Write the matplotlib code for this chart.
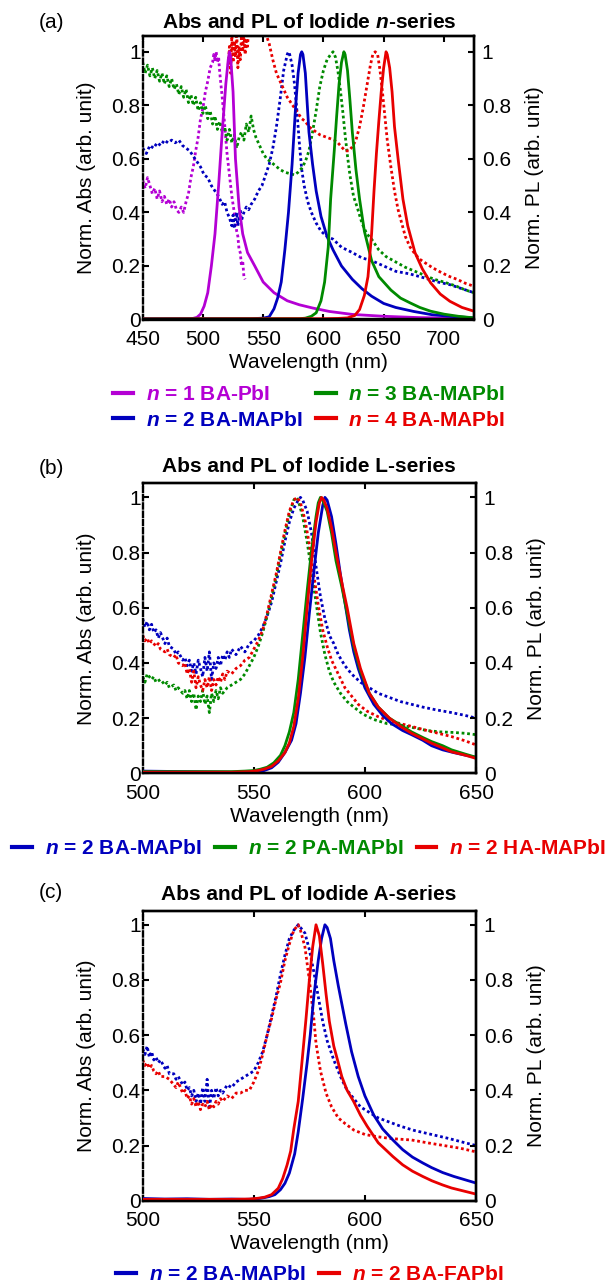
import matplotlib
matplotlib.use('Agg')
import matplotlib.pyplot as plt
from matplotlib.lines import Line2D

plt.rcParams['font.family'] = 'Liberation Sans'
plt.rcParams['font.size'] = 15
plt.rcParams['mathtext.fontset'] = 'custom'
plt.rcParams['mathtext.rm'] = 'Liberation Sans'
plt.rcParams['mathtext.it'] = 'Liberation Sans:italic'
plt.rcParams['mathtext.bf'] = 'Liberation Sans:bold'
plt.rcParams['mathtext.bfit'] = 'Liberation Sans:bold:italic'

PURPLE = '#B400D4'
BLUE = '#0000BE'
GREEN = '#008A00'
RED = '#E80000'

# ---------------- (a) iodide n-series ----------------
a_n1_abs_wl = [450, 452, 454, 456, 458, 460, 462, 464, 466, 468, 470, 472, 474, 476, 478, 480, 482, 484, 486, 488,
               490, 492, 494, 496, 498, 500, 502, 504, 506, 508, 509, 510, 511, 512, 513, 514, 516, 518, 520, 522,
               524, 526, 528, 529, 530, 531, 532, 533, 534, 535]
a_n1_abs = [.52, .49, .53, .50, .47, .49, .45, .48, .44, .46, .43, .45, .42, .44, .41, .40, .42, .40, .44, .47,
            .53, .57, .63, .68, .75, .79, .85, .89, .94, .96, .99, .97, 1.0, .96, .98, .92, .83, .73, .62, .54,
            .46, .40, .33, .31, .26, .25, .20, .22, .16, .15]
a_n1_pl_wl = [450, 490, 495, 498, 501, 504, 507, 510, 513, 516, 519, 521, 522, 523, 525, 527, 530, 533, 537, 543,
              550, 559, 570, 580, 591, 605, 624, 650, 680, 725]
a_n1_pl = [0.0, .002, .008, .02, .05, .1, .2, .32, .5, .7, .88, .97, 1.0, .98, .85, .6, .42, .32, .25, .2,
           .14, .1, .07, .055, .043, .03, .019, .012, .007, .004]

a_n2_abs_wl = [450, 453, 456, 459, 462, 465, 468, 471, 474, 477, 480, 483, 486, 489, 492, 495, 498, 501, 504, 507,
               510, 513, 516, 518, 520, 522, 524, 525, 526, 527, 528, 529, 530, 531, 532, 534, 536, 538, 540, 543,
               546, 549, 552, 555, 558, 561, 564, 567, 570, 571, 572, 574, 576, 578, 580, 582, 584, 587, 590, 594,
               598, 603, 608, 615, 624, 632, 640, 650, 660, 672, 684, 695, 705, 715, 725]
a_n2_abs = [.64, .62, .65, .64, .66, .65, .67, .66, .67, .66, .67, .65, .64, .63, .61, .59, .57, .54, .53, .50,
            .48, .46, .43, .44, .40, .38, .35, .39, .34, .37, .40, .35, .38, .41, .37, .40, .42, .41, .43, .45,
            .48, .50, .54, .58, .64, .72, .82, .93, .99, 1.0, .99, .95, .88, .78, .66, .56, .50, .44, .40, .36,
            .33, .31, .30, .27, .25, .23, .22, .20, .18, .17, .155, .14, .13, .115, .10]
a_n2_pl_wl = [450, 540, 550, 555, 559, 562, 565, 568, 571, 574, 577, 579, 581, 582, 583, 585, 588, 591, 594, 598,
              603, 608, 615, 624, 632, 640, 650, 660, 675, 690, 705, 725]
a_n2_pl = [.003, .003, .005, .01, .04, .08, .14, .26, .40, .58, .80, .92, .99, 1.0, .99, .92, .70, .58, .48, .385,
           .31, .26, .20, .15, .115, .087, .06, .045, .03, .018, .012, .006]

a_n3_abs_wl = [450, 452, 454, 456, 458, 460, 462, 464, 466, 468, 470, 472, 474, 476, 478, 480, 482, 484, 486, 488,
               490, 492, 494, 496, 498, 500, 502, 504, 506, 508, 510, 512, 514, 516, 518, 520, 522, 524, 526, 528,
               530, 532, 534, 536, 538, 540, 542, 544, 546, 548, 550, 553, 556, 560, 564, 568, 572, 576, 579, 582,
               585, 588, 591, 594, 597, 600, 603, 606, 608, 610, 612, 614, 616, 618, 620, 622, 625, 628, 632, 636,
               640, 646, 652, 660, 668, 676, 684, 692, 700, 710, 718, 725]
a_n3_abs = [.96, .92, .95, .91, .94, .90, .93, .89, .92, .88, .91, .87, .90, .86, .88, .84, .87, .83, .86, .81,
            .84, .80, .83, .78, .81, .77, .80, .75, .78, .73, .76, .71, .74, .70, .72, .67, .71, .66, .69, .64,
            .68, .70, .67, .73, .70, .76, .71, .68, .66, .64, .62, .60, .59, .575, .56, .55, .545, .54, .55, .565,
            .59, .63, .70, .78, .87, .93, .97, .99, 1.0, .98, .93, .86, .78, .69, .61, .54, .46, .42, .36, .32,
            .30, .26, .235, .215, .195, .18, .165, .15, .14, .125, .11, .10]
a_n3_pl_wl = [450, 580, 585, 590, 594, 598, 601, 604, 606, 609, 611, 613, 615, 617, 618, 620, 622, 624, 627, 630,
              634, 640, 646, 656, 664, 672, 680, 689, 700, 712, 725]
a_n3_pl = [.002, .003, .005, .012, .025, .07, .14, .27, .45, .63, .76, .88, .96, 1.0, .99, .93, .82, .70, .56, .45,
           .33, .22, .16, .11, .08, .062, .045, .031, .02, .012, .006]

a_n4_abs_wl = [521, 522, 523, 524, 525, 526, 527, 528, 529, 530, 531, 532, 533, 534, 535, 536, 537, 538, 540, 543,
               546, 549, 552, 555, 558, 561, 564, 567, 570, 573, 576, 579, 582, 585, 588, 591, 594, 597, 600, 603,
               606, 609, 612, 615, 618, 621, 624, 627, 630, 633, 636, 639, 641, 643, 645, 647, 649, 651, 653, 656,
               659, 662, 665, 668, 672, 676, 680, 685, 690, 698, 705, 711, 718, 725]
a_n4_abs = [.95, 1.02, .92, 1.06, .96, 1.04, .98, 1.08, .94, 1.02, .97, 1.06, 1.0, 1.08, .99, 1.05, 1.02, 1.09, 1.06, 1.1,
            1.08, 1.1, 1.07, 1.03, .97, .92, .89, .86, .83, .81, .79, .77, .75, .74, .72, .71, .70, .69, .685, .68,
            .675, .67, .66, .645, .63, .63, .645, .67, .72, .79, .87, .95, .99, 1.0, .99, .93, .85, .76, .67, .57,
            .48, .41, .36, .31, .27, .245, .225, .21, .195, .175, .16, .15, .135, .124]
a_n4_pl_wl = [450, 600, 612, 620, 626, 630, 634, 637, 640, 642, 644, 646, 648, 650, 652, 653, 655, 657, 659, 662,
              666, 670, 676, 682, 689, 697, 705, 715, 725]
a_n4_pl = [.002, .003, .004, .006, .015, .037, .09, .16, .32, .48, .62, .74, .85, .94, 1.0, .99, .94, .85, .72, .60,
           .45, .35, .25, .19, .137, .095, .068, .045, .031]

# ---------------- (b) iodide L-series ----------------
b_ba_abs_wl = [500, 501, 502, 503, 504, 505, 506, 507, 508, 510, 511, 512, 514, 515, 516, 518, 519, 520, 521, 522,
               523, 524, 525, 526, 527, 528, 529, 530, 531, 532, 533, 534, 535, 536, 537, 538, 539, 540, 542, 544,
               546, 548, 550, 552, 554, 556, 558, 560, 562, 564, 566, 568, 570, 571, 572, 574, 576, 578, 580, 582,
               584, 586, 588, 591, 594, 598, 602, 606, 611, 616, 621, 626, 632, 639, 645, 650]
b_ba_abs = [.56, .53, .55, .52, .54, .51, .52, .49, .51, .47, .49, .46, .45, .43, .44, .41, .42, .39, .41, .37,
            .40, .36, .41, .38, .35, .42, .37, .44, .34, .40, .38, .42, .39, .43, .41, .44, .42, .45, .43, .46,
            .44, .47, .48, .50, .53, .57, .62, .69, .76, .84, .91, .96, .99, 1.0, .99, .95, .87, .75, .64, .56,
            .50, .47, .43, .39, .36, .33, .31, .29, .275, .26, .25, .24, .23, .22, .21, .20]
b_pa_abs_wl = [500, 501, 502, 504, 505, 506, 508, 510, 511, 512, 514, 515, 516, 518, 519, 520, 521, 522, 523, 524,
               525, 526, 527, 528, 529, 530, 531, 532, 533, 534, 535, 536, 538, 540, 542, 544, 546, 548, 550, 552,
               554, 556, 558, 560, 562, 564, 566, 568, 569, 570, 572, 574, 576, 578, 580, 582, 584, 586, 589, 592,
               595, 599, 604, 610, 616, 622, 628, 634, 640, 645, 650]
b_pa_abs = [.35, .33, .36, .34, .35, .33, .34, .32, .33, .31, .32, .30, .31, .29, .30, .27, .30, .26, .29, .23,
            .28, .26, .30, .25, .28, .22, .29, .26, .30, .27, .31, .29, .31, .32, .33, .34, .36, .39, .42, .46,
            .51, .57, .64, .71, .79, .87, .94, .99, 1.0, .99, .93, .84, .73, .62, .51, .43, .37, .33, .29, .26,
            .24, .215, .195, .18, .175, .165, .155, .15, .148, .145, .14]
b_ha_abs_wl = [500, 501, 502, 503, 504, 506, 507, 508, 510, 511, 512, 514, 515, 516, 518, 519, 520, 521, 522, 523,
               524, 525, 526, 527, 528, 529, 530, 531, 532, 533, 534, 535, 536, 537, 538, 540, 542, 544, 546, 548,
               550, 552, 554, 556, 558, 560, 562, 564, 566, 568, 569.5, 571, 573, 575, 577, 579, 581, 583, 585, 588,
               591, 594, 597, 601, 606, 611, 616, 621, 627, 633, 639, 645, 650]
b_ha_abs = [.50, .48, .49, .47, .48, .46, .47, .45, .44, .45, .43, .42, .43, .40, .39, .40, .36, .38, .33, .37,
            .31, .35, .32, .30, .34, .31, .35, .30, .34, .32, .35, .33, .36, .34, .37, .36, .38, .39, .41, .42,
            .45, .48, .52, .58, .65, .72, .80, .88, .95, .99, 1.0, .98, .92, .83, .72, .61, .52, .46, .41, .36,
            .31, .28, .25, .225, .205, .19, .18, .17, .157, .145, .133, .118, .103]

b_ba_pl_wl = [500, 510, 520, 530, 540, 546, 550, 554, 558, 561, 564, 567, 569, 571, 573, 575, 577, 579, 581, 582,
              583, 585, 587, 589, 591, 593, 595, 597, 600, 604, 608, 612, 617, 621, 626, 630, 635, 640, 645, 650]
b_ba_pl = [.008, .007, .006, .005, .004, .003, .005, .008, .02, .04, .075, .12, .18, .29, .42, .58, .73, .87, .97, 1.0,
           .99, .93, .83, .72, .62, .52, .44, .38, .31, .25, .21, .18, .155, .14, .12, .10, .085, .075, .066, .058]
b_pa_pl_wl = [500, 520, 540, 546, 550, 553, 556, 559, 562, 564, 566, 568, 570, 572, 574, 576, 578, 579, 580, 581,
              583, 585, 587, 589.6, 592, 595, 598, 602, 606, 611, 616, 621, 626, 630, 635, 639, 645, 650]
b_pa_pl = [.006, .006, .006, .008, .01, .015, .022, .038, .065, .1, .15, .22, .34, .5, .66, .81, .93, .98, 1.0, .99,
           .95, .87, .77, .676, .58, .46, .37, .29, .24, .2, .175, .15, .13, .115, .1, .085, .07, .058]
b_ha_pl_wl = [500, 520, 540, 548, 552, 555, 558, 561, 564, 566, 568, 570, 572, 574, 576, 578, 579.5, 580.5, 581.5, 583,
              585, 587, 590, 592, 595, 598, 602, 606, 611, 616, 621, 626, 630, 635, 639, 645, 650]
b_ha_pl = [.004, .004, .004, .006, .01, .016, .025, .045, .075, .11, .17, .27, .42, .6, .77, .91, .98, 1.0, .99, .96,
           .89, .8, .676, .6, .47, .38, .29, .24, .2, .17, .145, .125, .109, .092, .078, .066, .054]

# ---------------- (c) iodide A-series ----------------
c_ma_abs_wl = [500, 501, 502, 503, 504, 505, 506, 507, 508, 510, 511, 512, 514, 515, 516, 518, 519, 520, 521, 522,
               523, 524, 525, 526, 527, 528, 529, 530, 531, 532, 533, 534, 535, 536, 538, 540, 542, 544, 546, 548,
               550, 552, 554, 556, 558, 560, 562, 564, 566, 568, 570, 571, 573, 575, 577, 579, 581, 583, 586, 589,
               592, 595, 598, 602, 606, 611, 616, 622, 630, 638, 645, 650]
c_ma_abs = [.55, .53, .56, .52, .54, .51, .52, .50, .51, .48, .49, .46, .46, .44, .45, .42, .43, .40, .41, .38,
            .40, .36, .39, .35, .41, .36, .44, .33, .40, .37, .41, .38, .40, .39, .42, .41, .43, .44, .45, .46,
            .47, .50, .54, .60, .67, .74, .82, .89, .95, .98, 1.0, .99, .97, .91, .83, .74, .65, .58, .51, .45,
            .40, .37, .34, .32, .30, .285, .27, .255, .24, .225, .21, .20]
c_fa_abs_wl = [500, 501, 502, 503, 504, 505, 506, 507, 508, 510, 512, 514, 515, 516, 518, 519, 520, 521, 522, 523,
               524, 525, 526, 527, 528, 529, 530, 531, 532, 533, 534, 535, 536, 538, 540, 542, 544, 546, 548, 550,
               552, 554, 556, 558, 560, 562, 564, 566, 568, 570, 571, 573, 575, 577, 578, 580, 582.5, 585, 588, 591,
               595, 600, 605.5, 612, 621, 628, 635.5, 643, 650]
c_fa_abs = [.51, .49, .50, .48, .49, .47, .46, .47, .45, .45, .44, .42, .41, .43, .39, .40, .37, .38, .35, .37,
            .34, .36, .33, .35, .34, .36, .33, .35, .34, .36, .35, .37, .36, .38, .37, .39, .39, .40, .40, .43,
            .47, .53, .60, .66, .73, .79, .87, .93, .98, 1.0, .98, .92, .80, .66, .57, .47, .39, .34, .30, .28,
            .256, .24, .232, .225, .22, .21, .20, .19, .177]

c_ma_pl_wl = [500, 510, 520, 530, 540, 546, 550.7, 554, 557, 559.5, 562, 564, 566, 568.4, 570, 572, 574, 575.4, 577, 579,
              580.5, 582, 583, 584.5, 586, 588, 591.4, 594, 597, 600, 604, 608, 612.6, 617, 621.4, 626, 630, 635, 640, 645,
              650]
c_ma_pl = [.008, .006, .007, .005, .006, .005, .006, .01, .015, .022, .04, .063, .1, .17, .25, .37, .5, .6, .74, .87,
           .95, 1.0, .99, .95, .87, .78, .64, .54, .45, .38, .31, .26, .22, .185, .158, .137, .12, .102, .088, .076,
           .064]
c_fa_pl_wl = [500, 520, 540, 548, 552, 555, 558, 561, 563, 565, 566.6, 568, 570, 572, 573.5, 575, 576.5, 578, 579.5, 581,
              582.5, 584, 586, 588, 589.6, 592, 594.9, 598, 601, 606, 612.6, 617, 621.4, 626, 630.2, 635, 639, 645, 650]
c_fa_pl = [.005, .005, .005, .006, .009, .013, .022, .045, .08, .13, .18, .26, .36, .53, .66, .8, .92, 1.0, .96, .86,
           .75, .65, .56, .5, .45, .4, .36, .31, .27, .21, .16, .13, .107, .088, .072, .057, .046, .034, .024]

y_ticks = [0, 0.2, 0.4, 0.6, 0.8, 1.0]
y_tick_labels = ['0', '0.2', '0.4', '0.6', '0.8', '1']

NI = r'$\mathbfit{n}$'

fig = plt.figure(figsize=(6.13, 12.85), dpi=100)
W, H = 613.0, 1285.0


def make_panel(left, top, right, bottom, xlim, xticks, ytop):
    ax = fig.add_axes([left / W, 1 - bottom / H, (right - left) / W, (bottom - top) / H])
    ax2 = ax.twinx()
    w_px = right - left
    h_px = bottom - top
    for a in (ax, ax2):
        a.set_xlim(*xlim)
        a.set_ylim(0, ytop)
        a.set_yticks(y_ticks)
        a.set_yticklabels(y_tick_labels)
        for s in a.spines.values():
            s.set_linewidth(1.7)
    ax.set_xticks(xticks)
    ax.spines['left'].set_linestyle((0, (2.2, 1.3)))
    ax2.spines['left'].set_visible(False)
    ax.tick_params(axis='x', direction='in', top=True, length=4.5, width=1.5, pad=7.5)
    ax.tick_params(axis='y', direction='in', right=False, length=4.5, width=1.5, pad=1.5)
    ax2.tick_params(axis='y', direction='in', length=4.5, width=1.5, pad=5.5)
    ax.set_xlabel('Wavelength (nm)')
    ax.set_ylabel('Norm. Abs (arb. unit)')
    ax2.set_ylabel('Norm. PL (arb. unit)')
    ax.xaxis.set_label_coords(0.5, -43 / h_px)
    ax.xaxis.label.set_va('center')
    ax.yaxis.set_label_coords(-56 / w_px, 0.5)
    ax.yaxis.label.set_va('center')
    ax2.yaxis.set_label_coords(1 + 60 / w_px, 0.5)
    ax2.yaxis.label.set_va('center')
    return ax, ax2


def add_legend(ax, entries, cx, cy, ncol):
    handles = [Line2D([], [], color=c, lw=3) for c, _ in entries]
    labels = [t for _, t in entries]
    ax.legend(handles, labels, loc='center', bbox_to_anchor=(cx / W, 1 - cy / H),
              bbox_transform=fig.transFigure, ncol=ncol, frameon=False,
              prop={'weight': 'bold', 'size': 15}, labelcolor='linecolor',
              handlelength=0.95, handletextpad=0.62, columnspacing=0.65,
              borderpad=0, borderaxespad=0, labelspacing=0.3)


DOT = (0, (1, 1))

# (a)
ax, ax2 = make_panel(142.7, 35.7, 474, 319.5, (450, 725), [450, 500, 550, 600, 650, 700], 1.06)
ax.plot(a_n1_abs_wl, a_n1_abs, color=PURPLE, ls=DOT, lw=2)
ax.plot(a_n2_abs_wl, a_n2_abs, color=BLUE, ls=DOT, lw=2)
ax.plot(a_n3_abs_wl, a_n3_abs, color=GREEN, ls=DOT, lw=2)
ax.plot(a_n4_abs_wl, a_n4_abs, color=RED, ls=DOT, lw=2)
ax2.plot(a_n1_pl_wl, a_n1_pl, color=PURPLE, lw=2)
ax2.plot(a_n2_pl_wl, a_n2_pl, color=BLUE, lw=2)
ax2.plot(a_n3_pl_wl, a_n3_pl, color=GREEN, lw=2)
ax2.plot(a_n4_pl_wl, a_n4_pl, color=RED, lw=2)
add_legend(ax2, [(PURPLE, NI + ' = 1 BA-PbI'), (BLUE, NI + ' = 2 BA-MAPbI'),
                 (GREEN, NI + ' = 3 BA-MAPbI'), (RED, NI + ' = 4 BA-MAPbI')], 309, 407.5, 2)
fig.text(309 / W, 1 - 22 / H, 'Abs and PL of Iodide ' + NI + '-series', ha='center', va='center', weight='bold')
fig.text(39 / W, 1 - 22 / H, '(a)', ha='left', va='center')

# (b)
ax, ax2 = make_panel(142.7, 483.3, 476, 773.3, (500, 650), [500, 550, 600, 650], 1.051)
ax.plot(b_ba_abs_wl, b_ba_abs, color=BLUE, ls=DOT, lw=2)
ax.plot(b_pa_abs_wl, b_pa_abs, color=GREEN, ls=DOT, lw=2)
ax.plot(b_ha_abs_wl, b_ha_abs, color=RED, ls=DOT, lw=2)
ax2.plot(b_ba_pl_wl, b_ba_pl, color=BLUE, lw=2)
ax2.plot(b_pa_pl_wl, b_pa_pl, color=GREEN, lw=2)
ax2.plot(b_ha_pl_wl, b_ha_pl, color=RED, lw=2)
add_legend(ax2, [(BLUE, NI + ' = 2 BA-MAPbI'), (GREEN, NI + ' = 2 PA-MAPbI'),
                 (RED, NI + ' = 2 HA-MAPbI')], 309, 849, 3)
fig.text(309 / W, 1 - 466 / H, 'Abs and PL of Iodide L-series', ha='center', va='center', weight='bold')
fig.text(39 / W, 1 - 468 / H, '(b)', ha='left', va='center')

# (c)
ax, ax2 = make_panel(142.7, 910.7, 476, 1200.7, (500, 650), [500, 550, 600, 650], 1.051)
ax.plot(c_ma_abs_wl, c_ma_abs, color=BLUE, ls=DOT, lw=2)
ax.plot(c_fa_abs_wl, c_fa_abs, color=RED, ls=DOT, lw=2)
ax2.plot(c_ma_pl_wl, c_ma_pl, color=BLUE, lw=2)
ax2.plot(c_fa_pl_wl, c_fa_pl, color=RED, lw=2)
add_legend(ax2, [(BLUE, NI + ' = 2 BA-MAPbI'), (RED, NI + ' = 2 BA-FAPbI')], 310, 1275, 2)
fig.text(309 / W, 1 - 894 / H, 'Abs and PL of Iodide A-series', ha='center', va='center', weight='bold')
fig.text(39 / W, 1 - 893 / H, '(c)', ha='left', va='center')

fig.savefig('out.png', dpi=100)
